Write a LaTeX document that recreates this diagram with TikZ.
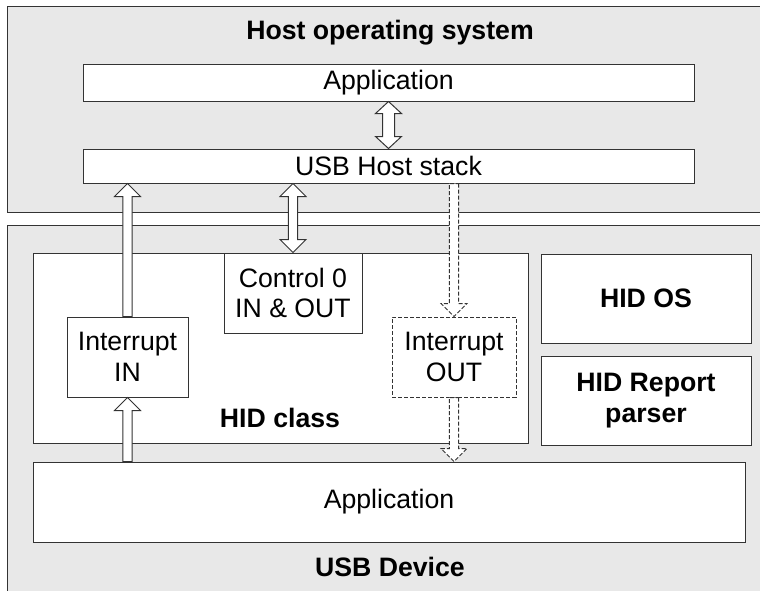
\documentclass[tikz,border=0pt]{standalone}
\usepackage{fontspec}
\setmainfont{Liberation Sans}
\usetikzlibrary{calc}
\definecolor{panelgray}{HTML}{E8E8E8}
\definecolor{edgegray}{HTML}{333333}
\newcommand{\diagfont}{\fontsize{20pt}{23pt}\selectfont}
\newcommand{\arrshaft}{3.4pt}
\newcommand{\arrwing}{9.75pt}
\newcommand{\arrhead}{9.75pt}
\newcommand{\blockarrow}[3][]{%
	\path ($(#3)!\arrhead!(#2)$) coordinate (tb);
	\draw[arrowline,#1] ($(#2)!\arrshaft!90:(#3)$) -- ($(tb)!\arrshaft!90:(#3)$) -- ($(tb)!\arrwing!90:(#3)$) -- (#3)
		-- ($(tb)!\arrwing!-90:(#3)$) -- ($(tb)!\arrshaft!-90:(#3)$) -- ($(#2)!\arrshaft!-90:(#3)$) -- cycle;
}
\newcommand{\blockdouble}[3][]{%
	\path ($(#3)!\arrhead!(#2)$) coordinate (tb) ($(#2)!\arrhead!(#3)$) coordinate (bb);
	\draw[arrowline,#1] (#2) -- ($(bb)!\arrwing!90:(#3)$) -- ($(bb)!\arrshaft!90:(#3)$) -- ($(tb)!\arrshaft!90:(#3)$) -- ($(tb)!\arrwing!90:(#3)$) -- (#3)
		-- ($(tb)!\arrwing!-90:(#3)$) -- ($(tb)!\arrshaft!-90:(#3)$) -- ($(bb)!\arrshaft!-90:(#3)$) -- ($(bb)!\arrwing!-90:(#3)$) -- cycle;
}
\tikzset{
	dims/.style 2 args={minimum width=#1*0.75pt, minimum height=#2*0.75pt},
	panel/.style={draw=edgegray, line width=0.75pt, fill=panelgray, inner sep=0pt},
	box/.style={draw=edgegray, line width=0.75pt, fill=white, inner sep=0pt, align=center, font=\diagfont},
	box dashed/.style={box, dash pattern=on 3pt off 1.5pt},
	title/.style={font=\diagfont\bfseries, anchor=base},
	heavy/.style={font=\diagfont\bfseries},
	arrowline/.style={draw=edgegray, line width=0.75pt, fill=white, line join=miter},
	arrow dashed/.style={dash pattern=on 3pt off 1.5pt}
}

\begin{document}
\begin{tikzpicture}[x=0.75pt, y=-0.75pt]
	\useasboundingbox (0,0) rectangle (760,590);
	\clip (0,0) rectangle (760,590);

	% host side
	\node[panel, dims={768}{206}]	(HostOS)	at (391,109)	{};
	\node[title]	(HostTitle)	at (390,39)	{Host operating system};
	\node[box, dims={611}{37}]	(HostApp)	at (388.5,82.5)	{Application};
	\node[box, dims={611}{34}]	(HostStack)	at (388.5,166)	{USB Host stack};

	% device side
	\node[panel, dims={768}{375}]	(DevBox)	at (391,412.5)	{};
	\node[box, dims={495}{190}]	(HidClass)	at (280.5,348)	{};
	\node[title]	(HidTitle)	at (280,427)	{HID class};
	\node[box, dims={138}{80}]	(CtrlEp)	at (293,293)	{Control 0\\IN \& OUT};
	\node[box, dims={121}{80}]	(IntIn)	at (127.5,357)	{Interrupt\\IN};
	\node[box dashed, dims={124}{80}]	(IntOut)	at (454,357)	{Interrupt\\OUT};
	\node[box, heavy, dims={210}{89}]	(HidOS)	at (646,298.5)	{HID OS};
	\node[box, heavy, dims={210}{89}]	(HidParser)	at (646,400.5)	{HID Report\\parser};
	\node[box, dims={712}{80}]	(DevApp)	at (389,502)	{Application};
	\node[title]	(DevTitle)	at (390,576)	{USB Device};

	% connectors
	\coordinate (InTop)	at (IntIn.north |- HostStack.south);
	\coordinate (InBot)	at (IntIn.south |- DevApp.north);
	\coordinate (CtrlTop)	at (CtrlEp.north |- HostStack.south);
	\coordinate (OutTop)	at (IntOut.north |- HostStack.south);
	\coordinate (OutBot)	at (IntOut.south |- DevApp.north);

	{\renewcommand{\arrshaft}{4.5pt}\renewcommand{\arrhead}{9pt}
	\blockdouble{HostStack.north}{HostApp.south}}
	\blockarrow{IntIn.north}{InTop}
	\blockarrow{InBot}{IntIn.south}
	\blockdouble{CtrlEp.north}{CtrlTop}
	\blockarrow[arrow dashed]{OutTop}{IntOut.north}
	\blockarrow[arrow dashed]{IntOut.south}{OutBot}
\end{tikzpicture}
\end{document}
